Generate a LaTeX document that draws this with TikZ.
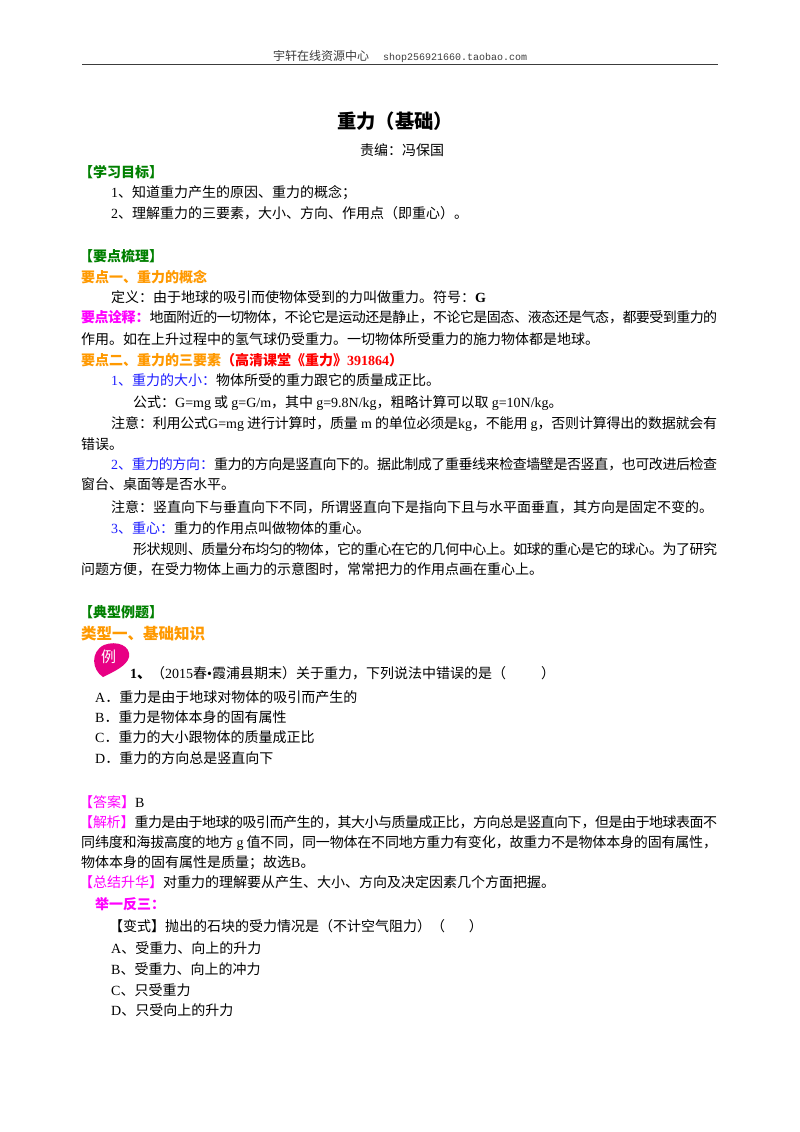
\documentclass[tikz,border=0pt]{standalone}
\usepackage{fontspec}
\setmainfont{Noto Sans CJK SC}
\newfontfamily\en{Liberation Serif}
\newfontfamily\mono{Liberation Mono}
\XeTeXlinebreaklocale "zh"
\XeTeXlinebreakskip=0pt plus 1pt minus 0.6pt
\definecolor{headgreen}{RGB}{0,128,0}
\definecolor{headorange}{RGB}{255,153,0}
\definecolor{headmagenta}{RGB}{255,0,255}
\definecolor{headblue}{RGB}{30,30,255}
\definecolor{headred}{RGB}{255,0,0}
\definecolor{lipink}{RGB}{232,0,132}
\definecolor{hdrgray}{RGB}{60,60,60}

\begin{document}
\begin{tikzpicture}[x=1pt,y=-1pt,
    every node/.style={inner sep=0pt,anchor=base west},
    body text/.style={font=\fontsize{14}{17}\selectfont},
    just text/.style={body text,text width=#1,align=justify,
                      execute at begin node={\parfillskip=0pt\relax}},
    hdr text/.style={font=\fontsize{12}{14}\selectfont,text=hdrgray},
    title text/.style={font=\fontsize{19.3}{22}\selectfont\bfseries},
    green head/.style={font=\fontsize{14}{17}\selectfont\bfseries,text=headgreen},
    orange head/.style={font=\fontsize{14}{17}\selectfont\bfseries,text=headorange}]

  \path[use as bounding box,fill=white] (0,0) rectangle (800,1132);

  % page header
  \node[hdr text] (hdr) at (273,61) {宇轩在线资源中心};
  \node[hdr text,font=\mono\fontsize{10}{12}\selectfont] (shop) at (383,61) {shop256921660.taobao.com};
  \coordinate (rule l) at (82,64.5);
  \coordinate (rule r) at (718,64.5);
  \draw[hdrgray,line width=1.8pt] (rule l) -- (rule r);

  % title
  \node[title text] (title) at (337,128) {重力（基础）};
  \node[body text] (editor) at (360,155) {责编：冯保国};

  % learning goals
  \node[green head] (goal) at (79,177.6) {【学习目标】};
  \node[body text] (goal1) at (111,197.6) {{\en 1}、知道重力产生的原因、重力的概念；};
  \node[body text] (goal2) at (111,218.6) {{\en 2}、理解重力的三要素，大小、方向、作用点（即重心）。};

  % key points
  \node[green head] (keys) at (79,261) {【要点梳理】};
  \node[orange head] (key1) at (81,282) {要点一、重力的概念};
  \node[body text] (def) at (111,302) {定义：由于地球的吸引而使物体受到的力叫做重力。符号：{\en\bfseries G}};
  \node[just text=636pt] (note1) at (81,322) {{\bfseries\color{headmagenta}要点诠释：}地面附近的一切物体，不论它是运动还是静止，不论它是固态、液态还是气态，都要受到重力的};
  \node[body text] (note1b) at (81,344.3) {作用。如在上升过程中的氢气球仍受重力。一切物体所受重力的施力物体都是地球。};
  \node[orange head] (key2) at (81,365.3) {要点二、重力的三要素{\color{headred}（高清课堂《重力》{\en\bfseries 391864}）}};
  \node[body text] (size) at (111,385.3) {{\color{headblue}{\en 1}、重力的大小：}物体所受的重力跟它的质量成正比。};
  \node[body text] (formula) at (133,407) {公式：{\en G=mg} 或 {\en g=G/m}，其中 {\en g=9.8N/kg}，粗略计算可以取 {\en g=10N/kg}。};
  \node[just text=606pt] (note2) at (111,428.6) {注意：利用公式{\en G=mg }进行计算时，质量{\en\ m }的单位必须是{\en kg}，不能用{\en\ g}，否则计算得出的数据就会有};
  \node[body text] (note2b) at (81,449.3) {错误。};
  \node[just text=606pt] (dir) at (111,469.3) {{\color{headblue}{\en 2}、重力的方向：}重力的方向是竖直向下的。据此制成了重垂线来检查墙壁是否竖直，也可改进后检查};
  \node[body text] (dirb) at (81,489.6) {窗台、桌面等是否水平。};
  \node[body text] (note3) at (111,512) {注意：竖直向下与垂直向下不同，所谓竖直向下是指向下且与水平面垂直，其方向是固定不变的。};
  \node[body text] (cog) at (111,533) {{\color{headblue}{\en 3}、重心：}重力的作用点叫做物体的重心。};
  \node[just text=584pt] (shape) at (133,554.3) {形状规则、质量分布均匀的物体，它的重心在它的几何中心上。如球的重心是它的球心。为了研究};
  \node[body text] (shapeb) at (81,574.3) {问题方便，在受力物体上画力的示意图时，常常把力的作用点画在重心上。};

  % examples
  \node[green head] (exams) at (79,617.6) {【典型例题】};
  \node[orange head,font=\fontsize{15.5}{18}\selectfont\bfseries] (type1) at (81,639.3) {类型一、基础知识};
  \fill[lipink] (103,677) .. controls (92,670) and (90,652) .. (104,645)
    .. controls (117,640) and (131,646) .. (129,657)
    .. controls (127,666) and (113,672) .. (103,677);
  \node[font=\fontsize{15}{16}\selectfont,text=white] (li) at (101,662) {例};
  \node[body text] (q1) at (130,678) {{\en\bfseries 1}{\bfseries 、}（{\en 2015}春{\en •}霞浦县期末）关于重力，下列说法中错误的是（\hspace{2.5em}）};
  \node[body text] (q1a) at (95,702) {{\en A}．重力是由于地球对物体的吸引而产生的};
  \node[body text] (q1b) at (95,722) {{\en B}．重力是物体本身的固有属性};
  \node[body text] (q1c) at (95,742.6) {{\en C}．重力的大小跟物体的质量成正比};
  \node[body text] (q1d) at (95,763.6) {{\en D}．重力的方向总是竖直向下};

  % answer
  \node[body text] (ans) at (79,807) {{\color{headmagenta}【答案】}{\en B}};
  \node[just text=638pt] (expl) at (79,827) {{\color{headmagenta}【解析】}重力是由于地球的吸引而产生的，其大小与质量成正比，方向总是竖直向下，但是由于地球表面不};
  \node[just text=636pt] (explb) at (81,847) {同纬度和海拔高度的地方{\en\ g }值不同，同一物体在不同地方重力有变化，故重力不是物体本身的固有属性，};
  \node[body text] (explc) at (81,867) {物体本身的固有属性是质量；故选{\en B}。};
  \node[body text] (summ) at (79,887) {{\color{headmagenta}【总结升华】}对重力的理解要从产生、大小、方向及决定因素几个方面把握。};
  \node[body text,font=\fontsize{14}{17}\selectfont\bfseries,text=headmagenta] (more) at (95,909) {举一反三：};
  \node[body text] (var) at (109,931) {【变式】抛出的石块的受力情况是（不计空气阻力）（\hspace{1.7em}）};
  \node[body text] (vara) at (111,953.5) {{\en A}、受重力、向上的升力};
  \node[body text] (varb) at (111,974.5) {{\en B}、受重力、向上的冲力};
  \node[body text] (varc) at (111,995) {{\en C}、只受重力};
  \node[body text] (vard) at (111,1015.5) {{\en D}、只受向上的升力};
\end{tikzpicture}
\end{document}
